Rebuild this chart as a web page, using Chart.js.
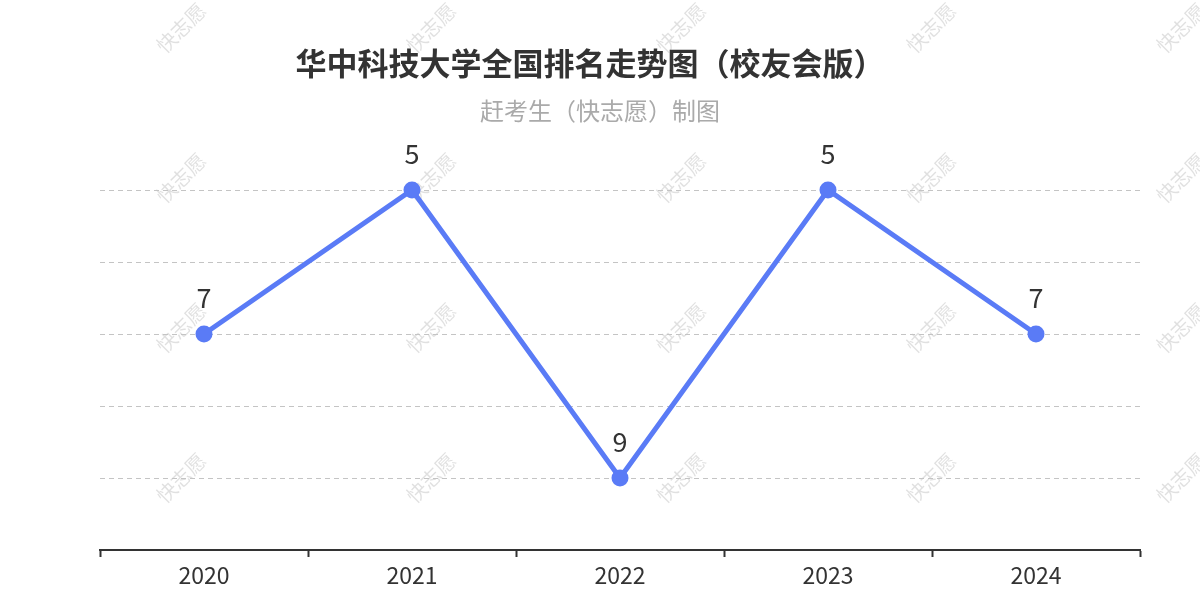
<!DOCTYPE html>
<html>
<head>
<meta charset="utf-8">
<script src="https://cdn.jsdelivr.net/npm/chart.js@4.4.1/dist/chart.umd.min.js"></script>
<style>
    html, body { margin: 0; padding: 0; background: #fff; }
    #wrap { width: 1200px; height: 600px; }
</style>
</head>
<body>
<div id="wrap"><canvas id="rankChart" width="1200" height="600"></canvas></div>
<script>
var years = ['2020', '2021', '2022', '2023', '2024'];
var ranks = [7, 5, 9, 5, 7];
var rankAxisTicks = [5, 6, 7, 8, 9, 10];

var titleText = '华中科技大学全国排名走势图（校友会版）';
var subtitleText = '赶考生（快志愿）制图';
var watermarkText = '快志愿';

var cjkFont = "'Noto Sans CJK SC', 'Noto Sans', sans-serif";

// watermark behind everything
var watermarkPlugin = {
    id: 'watermark',
    beforeDraw: function (chart) {
        var ctx = chart.ctx;
        ctx.save();
        ctx.fillStyle = 'rgba(0, 0, 0, 0.12)';
        ctx.font = '20px ' + cjkFont;
        ctx.textAlign = 'center';
        ctx.textBaseline = 'middle';
        for (var gx = 181; gx < 1300; gx += 250) {
            for (var gy = 28; gy < 600; gy += 150) {
                ctx.save();
                ctx.translate(gx, gy);
                ctx.rotate(-Math.PI / 4);
                ctx.fillText(watermarkText, 0, 0);
                ctx.restore();
            }
        }
        ctx.restore();
    }
};

// title + subtitle, centred on the canvas rather than the plot
var headingPlugin = {
    id: 'heading',
    afterDraw: function (chart) {
        var ctx = chart.ctx;
        ctx.save();
        ctx.textAlign = 'center';
        ctx.textBaseline = 'middle';
        ctx.fillStyle = '#333';
        ctx.font = 'bold 31px ' + cjkFont;
        ctx.fillText(titleText, 590, 63);
        ctx.fillStyle = '#aaa';
        ctx.font = '24px ' + cjkFont;
        ctx.fillText(subtitleText, 600, 111);
        ctx.restore();
    }
};

// value labels above the points
var pointLabelPlugin = {
    id: 'pointLabels',
    afterDatasetsDraw: function (chart) {
        var ctx = chart.ctx;
        var meta = chart.getDatasetMeta(0);
        ctx.save();
        ctx.fillStyle = '#333';
        ctx.font = '27px ' + cjkFont;
        ctx.textAlign = 'center';
        ctx.textBaseline = 'middle';
        meta.data.forEach(function (pt, i) {
            ctx.fillText(String(ranks[i]), pt.x, pt.y - 36);
        });
        ctx.restore();
    }
};

var ctx = document.getElementById('rankChart').getContext('2d');
new Chart(ctx, {
    type: 'line',
    data: {
        labels: years,
        datasets: [{
            data: ranks,
            borderColor: '#5a7bf6',
            backgroundColor: '#5a7bf6',
            borderWidth: 5,
            pointRadius: 8.5,
            pointHoverRadius: 8.5,
            pointBackgroundColor: '#5a7bf6',
            pointBorderWidth: 0,
            tension: 0,
            clip: false
        }]
    },
    options: {
        responsive: false,
        animation: false,
        layout: {
            padding: { left: 100, right: 60, top: 190, bottom: 0 }
        },
        plugins: {
            legend: { display: false },
            tooltip: { enabled: false },
            title: { display: false }
        },
        scales: {
            x: {
                offset: true,
                grid: {
                    offset: true,
                    drawOnChartArea: false,
                    drawTicks: true,
                    tickLength: 7,
                    tickWidth: 2,
                    tickColor: '#333'
                },
                border: { display: true, color: '#333', width: 2 },
                ticks: {
                    color: '#333',
                    padding: 4,
                    font: { family: cjkFont, size: 23 }
                },
                afterFit: function (scale) { scale.height = 50; }
            },
            y: {
                reverse: true,
                min: rankAxisTicks[0],
                max: rankAxisTicks[rankAxisTicks.length - 1],
                afterBuildTicks: function (scale) {
                    scale.ticks = rankAxisTicks.map(function (v) { return { value: v }; });
                },
                grid: {
                    color: '#c4c4c4',
                    lineWidth: 1,
                    drawTicks: false
                },
                border: { display: false, dash: [5, 4] },
                ticks: { display: false },
                afterFit: function (scale) { scale.width = 0; }
            }
        }
    },
    plugins: [watermarkPlugin, pointLabelPlugin, headingPlugin]
});
</script>
</body>
</html>
